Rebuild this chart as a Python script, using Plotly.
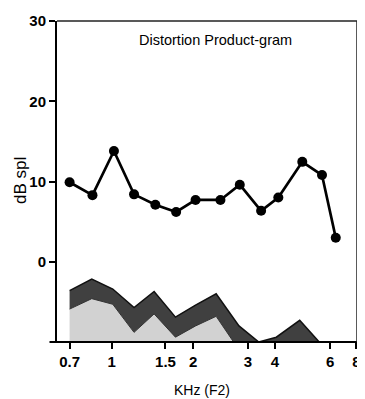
import math
import plotly.graph_objects as go

# DP-gram response (kHz, dB SPL)
freq_khz = [0.70, 0.85, 1.02, 1.21, 1.45, 1.73, 2.04, 2.52, 2.97, 3.56, 4.12, 5.05, 5.97, 6.71]
dp_level_db = [9.9, 8.3, 13.8, 8.4, 7.1, 6.2, 7.7, 7.7, 9.6, 6.35, 8.0, 12.45, 10.8, 3.0]

# Noise floor bands
noise_freq_khz = [0.70, 0.845, 1.01, 1.21, 1.435, 1.72, 2.04, 2.43, 2.95, 3.49, 4.05, 4.94, 5.83]
noise_upper_db = [-3.6, -2.15, -3.4, -5.7, -3.7, -6.9, -5.4, -4.0, -8.0, -10.0, -9.4, -7.3, -10.0]
noise_lower_db = [-5.9, -4.6, -5.3, -8.8, -6.5, -9.4, -8.0, -6.8, -11.0, -12.0, -12.0, -12.0, -12.0]
floor_db = -15.0

x_tick_vals = [0.7, 1, 1.58, 2, 3.18, 4, 6.4, 8]
x_tick_text = ["0.7", "1", "1.5", "2", "3", "4", "6", "8"]
y_tick_vals = [0, 10, 20, 30]

sans = "Liberation Sans, Arial, sans-serif"

fig = go.Figure()
fig.add_trace(go.Scatter(x=noise_freq_khz, y=[floor_db] * len(noise_freq_khz),
                         mode="lines", line=dict(width=0, color="rgba(0,0,0,0)"),
                         hoverinfo="skip", showlegend=False))
fig.add_trace(go.Scatter(x=noise_freq_khz, y=noise_lower_db, mode="lines",
                         line=dict(color="#333333", width=1), fill="tonexty",
                         fillcolor="#d2d2d2", showlegend=False))
fig.add_trace(go.Scatter(x=noise_freq_khz, y=noise_upper_db, mode="lines",
                         line=dict(color="#111111", width=1.5), fill="tonexty",
                         fillcolor="#404040", showlegend=False))
fig.add_trace(go.Scatter(x=freq_khz, y=dp_level_db, mode="lines+markers",
                         line=dict(color="black", width=2.7),
                         marker=dict(color="black", size=10), showlegend=False))

fig.update_xaxes(type="log", range=[math.log10(0.629), math.log10(8.0) + 0.002],
                 tickvals=x_tick_vals, ticktext=x_tick_text,
                 ticks="outside", ticklen=6, tickwidth=1.5, tickcolor="black",
                 ticklabeloverflow="allow",
                 showgrid=False, zeroline=False, showline=False,
                 tickfont=dict(family=sans, size=15, color="black", weight="bold"))
fig.update_yaxes(range=[-10, 30], tickvals=y_tick_vals,
                 ticks="outside", ticklen=6, tickwidth=1.5, tickcolor="black",
                 showgrid=False, zeroline=False, showline=True, linecolor="black", linewidth=2,
                 tickfont=dict(family=sans, size=15, color="black", weight="bold"))

# frame lines
fig.add_shape(type="line", xref="paper", yref="paper", x0=-0.025, x1=1.0, y0=0, y1=0,
              line=dict(color="black", width=2))
fig.add_shape(type="line", xref="paper", yref="paper", x0=0, x1=1.0, y0=1, y1=1,
              line=dict(color="#222222", width=1.5))
fig.add_shape(type="line", xref="paper", yref="paper", x0=1, x1=1, y0=0, y1=1,
              line=dict(color="#222222", width=1.5))

fig.add_annotation(text="Distortion Product-gram", xref="paper", yref="paper",
                   x=0.528, y=0.94, showarrow=False, xanchor="center", yanchor="middle",
                   font=dict(family=sans, size=14.5, color="black"))
fig.add_annotation(text="KHz (F2)", xref="paper", yref="paper",
                   x=0.484, y=-0.149, showarrow=False, xanchor="center", yanchor="middle",
                   font=dict(family=sans, size=14, color="black"))
fig.add_annotation(text="dB spl", xref="paper", yref="paper", textangle=-90,
                   x=-0.122, y=0.503, showarrow=False, xanchor="center", yanchor="middle",
                   font=dict(family=sans, size=17, color="black"))

# page body has an 8px margin, so the figure is 16px smaller than the window
fig.update_layout(width=357, height=391, margin=dict(l=49, r=4, t=12, b=57),
                  paper_bgcolor="white", plot_bgcolor="white")

fig.write_html("out.html")
